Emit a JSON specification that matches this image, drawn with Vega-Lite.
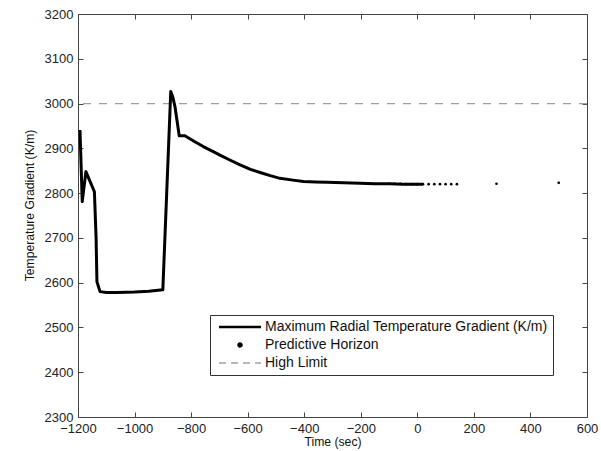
{
  "$schema": "https://vega.github.io/schema/vega-lite/v6.json",
  "width": 509,
  "height": 403,
  "autosize": {"type": "none"},
  "padding": {"left": 78, "top": 14, "right": 14, "bottom": 34},
  "background": "white",
  "config": {
    "view": {"stroke": null},
    "axis": {
      "labelFont": "Liberation Sans",
      "labelFontSize": 13,
      "labelColor": "#222222",
      "titleFont": "Liberation Sans",
      "titleFontSize": 12.2,
      "titleFontWeight": "normal",
      "titleColor": "#111111",
      "domainColor": "#444444",
      "tickColor": "#444444",
      "tickSize": -5,
      "grid": false,
      "labelPadding": 10,
      "labelFlush": false,
      "labelOverlap": false
    }
  },
  "datasets": {
    "main": [
      {"t": -1193, "g": 2941, "series": "Maximum Radial Temperature Gradient (K/m)"},
      {"t": -1185, "g": 2781, "series": "Maximum Radial Temperature Gradient (K/m)"},
      {"t": -1172, "g": 2848, "series": "Maximum Radial Temperature Gradient (K/m)"},
      {"t": -1142, "g": 2803, "series": "Maximum Radial Temperature Gradient (K/m)"},
      {"t": -1136, "g": 2700, "series": "Maximum Radial Temperature Gradient (K/m)"},
      {"t": -1133, "g": 2602, "series": "Maximum Radial Temperature Gradient (K/m)"},
      {"t": -1122, "g": 2580, "series": "Maximum Radial Temperature Gradient (K/m)"},
      {"t": -1100, "g": 2578, "series": "Maximum Radial Temperature Gradient (K/m)"},
      {"t": -1063, "g": 2578, "series": "Maximum Radial Temperature Gradient (K/m)"},
      {"t": -1000, "g": 2579, "series": "Maximum Radial Temperature Gradient (K/m)"},
      {"t": -950, "g": 2581, "series": "Maximum Radial Temperature Gradient (K/m)"},
      {"t": -900, "g": 2584, "series": "Maximum Radial Temperature Gradient (K/m)"},
      {"t": -872, "g": 3027, "series": "Maximum Radial Temperature Gradient (K/m)"},
      {"t": -865, "g": 3015, "series": "Maximum Radial Temperature Gradient (K/m)"},
      {"t": -857, "g": 2993, "series": "Maximum Radial Temperature Gradient (K/m)"},
      {"t": -842, "g": 2928, "series": "Maximum Radial Temperature Gradient (K/m)"},
      {"t": -822, "g": 2928, "series": "Maximum Radial Temperature Gradient (K/m)"},
      {"t": -790, "g": 2916, "series": "Maximum Radial Temperature Gradient (K/m)"},
      {"t": -757, "g": 2904, "series": "Maximum Radial Temperature Gradient (K/m)"},
      {"t": -720, "g": 2892, "series": "Maximum Radial Temperature Gradient (K/m)"},
      {"t": -698, "g": 2885, "series": "Maximum Radial Temperature Gradient (K/m)"},
      {"t": -663, "g": 2874, "series": "Maximum Radial Temperature Gradient (K/m)"},
      {"t": -627, "g": 2863, "series": "Maximum Radial Temperature Gradient (K/m)"},
      {"t": -590, "g": 2853, "series": "Maximum Radial Temperature Gradient (K/m)"},
      {"t": -556, "g": 2846, "series": "Maximum Radial Temperature Gradient (K/m)"},
      {"t": -520, "g": 2839, "series": "Maximum Radial Temperature Gradient (K/m)"},
      {"t": -486, "g": 2833, "series": "Maximum Radial Temperature Gradient (K/m)"},
      {"t": -440, "g": 2829, "series": "Maximum Radial Temperature Gradient (K/m)"},
      {"t": -403, "g": 2826, "series": "Maximum Radial Temperature Gradient (K/m)"},
      {"t": -360, "g": 2825, "series": "Maximum Radial Temperature Gradient (K/m)"},
      {"t": -321, "g": 2824, "series": "Maximum Radial Temperature Gradient (K/m)"},
      {"t": -260, "g": 2823, "series": "Maximum Radial Temperature Gradient (K/m)"},
      {"t": -203, "g": 2822, "series": "Maximum Radial Temperature Gradient (K/m)"},
      {"t": -150, "g": 2821, "series": "Maximum Radial Temperature Gradient (K/m)"},
      {"t": -100, "g": 2821, "series": "Maximum Radial Temperature Gradient (K/m)"},
      {"t": -50, "g": 2820, "series": "Maximum Radial Temperature Gradient (K/m)"},
      {"t": 0, "g": 2820, "series": "Maximum Radial Temperature Gradient (K/m)"},
      {"t": 20, "g": 2820, "series": "Maximum Radial Temperature Gradient (K/m)"}
    ],
    "horizon": [
      {"t": -100, "g": 2821, "series": "Predictive Horizon"},
      {"t": -80, "g": 2821, "series": "Predictive Horizon"},
      {"t": -60, "g": 2821, "series": "Predictive Horizon"},
      {"t": -40, "g": 2820, "series": "Predictive Horizon"},
      {"t": -20, "g": 2820, "series": "Predictive Horizon"},
      {"t": 0, "g": 2820, "series": "Predictive Horizon"},
      {"t": 20, "g": 2820, "series": "Predictive Horizon"},
      {"t": 40, "g": 2820, "series": "Predictive Horizon"},
      {"t": 60, "g": 2820, "series": "Predictive Horizon"},
      {"t": 80, "g": 2820, "series": "Predictive Horizon"},
      {"t": 100, "g": 2820, "series": "Predictive Horizon"},
      {"t": 120, "g": 2820, "series": "Predictive Horizon"},
      {"t": 140, "g": 2820, "series": "Predictive Horizon"},
      {"t": 280, "g": 2821, "series": "Predictive Horizon"},
      {"t": 500, "g": 2823, "series": "Predictive Horizon"}
    ],
    "limit": [
      {"g": 3000, "series": "High Limit"}
    ]
  },
  "layer": [
    {
      "data": {"name": "limit"},
      "mark": {"type": "rule", "strokeDash": [8, 8], "strokeWidth": 1.3},
      "encoding": {
        "y": {"field": "g", "type": "quantitative", "scale": {"domain": [2300, 3200], "nice": false, "zero": false}, "axis": null},
        "color": {"field": "series", "type": "nominal"}
      }
    },
    {
      "data": {"name": "main"},
      "mark": {"type": "line", "strokeWidth": 3, "strokeJoin": "round"},
      "encoding": {
        "x": {
          "field": "t", "type": "quantitative",
          "scale": {"domain": [-1200, 600], "nice": false, "zero": false},
          "axis": {"orient": "bottom", "values": [-1200, -1000, -800, -600, -400, -200, 0, 200, 400, 600], "format": "d", "title": "Time (sec)", "titlePadding": 0}
        },
        "y": {
          "field": "g", "type": "quantitative",
          "scale": {"domain": [2300, 3200], "nice": false, "zero": false},
          "axis": {"orient": "left", "values": [2300, 2400, 2500, 2600, 2700, 2800, 2900, 3000, 3100, 3200], "format": "d", "title": "Temperature Gradient (K/m)", "titlePadding": 8, "titleY": 191}
        },
        "color": {
          "field": "series", "type": "nominal",
          "scale": {
            "domain": ["Maximum Radial Temperature Gradient (K/m)", "Predictive Horizon", "High Limit"],
            "range": ["#000000", "#000000", "#a0a0a0"]
          },
          "legend": {
            "title": null,
            "orient": "none",
            "legendX": 132,
            "legendY": 301,
            "symbolType": "M-4.2,0H4.2",
            "symbolSize": 100,
            "symbolOffset": 18,
            "labelOffset": 18,
            "rowPadding": 4,
            "padding": 5,
            "strokeColor": "#333333",
            "fillColor": "white",
            "labelFont": "Liberation Sans",
            "labelFontSize": 14,
            "labelColor": "#111111",
            "labelLimit": 400,
            "encode": {
              "symbols": {
                "update": {
                  "shape": {"signal": "datum.value === 'Predictive Horizon' ? 'circle' : 'M-4.2,0H4.2'"},
                  "size": {"signal": "datum.value === 'Predictive Horizon' ? 9 : 100"},
                  "fill": {"signal": "datum.value === 'Predictive Horizon' ? 'black' : 'transparent'"},
                  "stroke": {"signal": "datum.value === 'High Limit' ? '#999999' : (datum.value === 'Predictive Horizon' ? 'transparent' : 'black')"},
                  "strokeWidth": {"signal": "datum.value === 'High Limit' ? 1.3 : 2.5"},
                  "strokeDash": {"signal": "datum.value === 'High Limit' ? [7, 5] : [1, 0]"},
                  "opacity": {"value": 1}
                }
              }
            }
          }
        }
      }
    },
    {
      "data": {"name": "horizon"},
      "mark": {"type": "point", "shape": "circle", "filled": true, "size": 7, "opacity": 1},
      "encoding": {
        "x": {
          "field": "t", "type": "quantitative",
          "scale": {"domain": [-1200, 600], "nice": false, "zero": false},
          "axis": {"orient": "top", "values": [-1200, -1000, -800, -600, -400, -200, 0, 200, 400, 600], "labels": false, "title": null}
        },
        "y": {
          "field": "g", "type": "quantitative",
          "scale": {"domain": [2300, 3200], "nice": false, "zero": false},
          "axis": {"orient": "right", "values": [2300, 2400, 2500, 2600, 2700, 2800, 2900, 3000, 3100, 3200], "labels": false, "title": null}
        },
        "color": {"field": "series", "type": "nominal"}
      }
    }
  ],
  "resolve": {"axis": {"x": "independent", "y": "independent"}}
}
